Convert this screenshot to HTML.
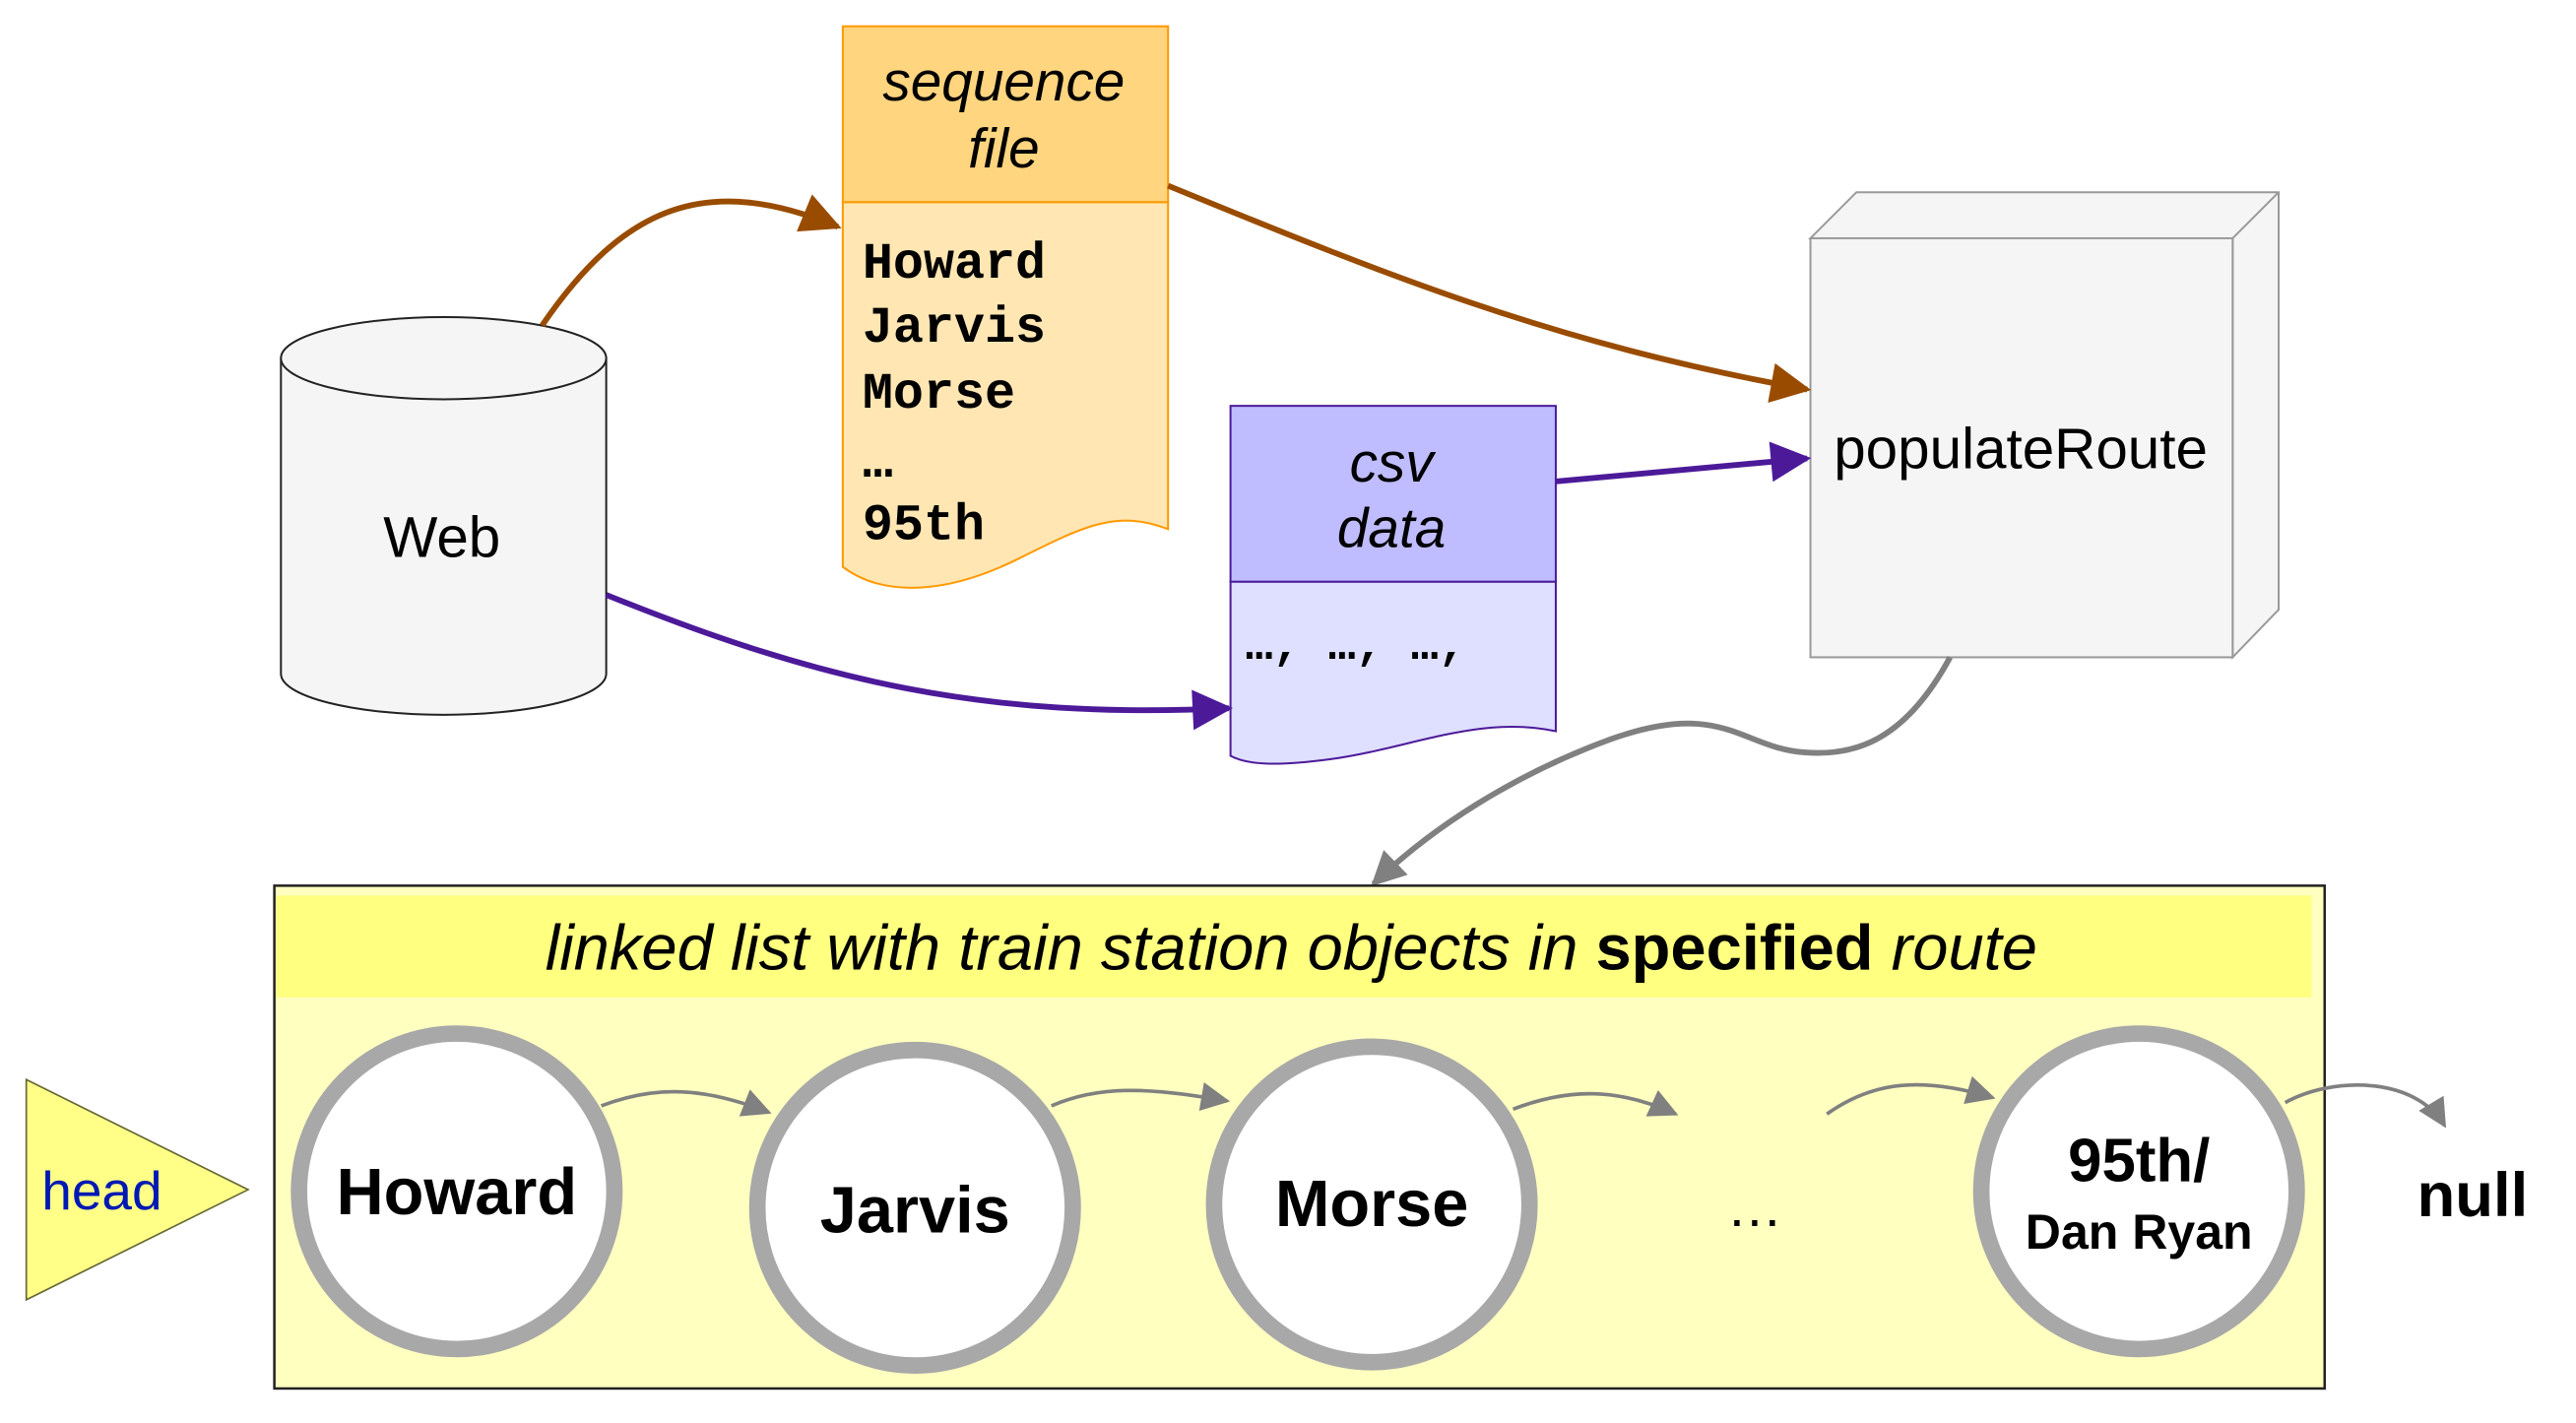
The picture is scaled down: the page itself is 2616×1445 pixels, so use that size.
<!DOCTYPE html>
<html><head><meta charset="utf-8"><style>html,body{margin:0;padding:0;background:#fff}svg{display:block}</style></head>
<body>
<svg width="2616" height="1445" viewBox="0 0 1568 866" preserveAspectRatio="none" xmlns="http://www.w3.org/2000/svg" font-family="Liberation Sans, sans-serif">
<defs>
<marker id="ab" viewBox="0 0 10 10" refX="9" refY="5" markerWidth="8" markerHeight="7" orient="auto" markerUnits="strokeWidth"><path d="M0,0L10,5L0,10z" fill="#994c00"/></marker>
<marker id="ap" viewBox="0 0 10 10" refX="9" refY="5" markerWidth="8" markerHeight="7" orient="auto" markerUnits="strokeWidth"><path d="M0,0L10,5L0,10z" fill="#4c1a99"/></marker>
<marker id="ag" viewBox="0 0 10 10" refX="9" refY="5" markerWidth="7" markerHeight="6" orient="auto" markerUnits="strokeWidth"><path d="M0,0L10,5L0,10z" fill="#808080"/></marker>
<marker id="as" viewBox="0 0 10 10" refX="9" refY="5" markerWidth="10" markerHeight="8" orient="auto" markerUnits="strokeWidth"><path d="M0,0L10,5L0,10z" fill="#808080"/></marker>
</defs>
<path d="M171,218 L171,410 A99,25 0 0 0 369,410 L369,218" fill="#f5f5f5" stroke="#222" stroke-width="1.2"/>
<ellipse cx="270" cy="218" rx="99" ry="25" fill="#f5f5f5" stroke="#222" stroke-width="1.2"/>
<text x="269" y="339" font-size="35" text-anchor="middle">Web</text>
<path d="M513,123 L711,123 L711,322 C680,310 660,320 620,340 C580,360 540,365 513,345 Z" fill="#ffe6b3" stroke="#ff9900" stroke-width="1.2"/>
<rect x="513" y="16" width="198" height="107" fill="#ffd57f" stroke="#ff9900" stroke-width="1.2"/>
<text x="611" y="61" font-size="34" font-style="italic" text-anchor="middle">sequence</text>
<text x="611" y="102" font-size="34" font-style="italic" text-anchor="middle">file</text>
<g font-family="Liberation Mono, monospace" font-size="31" font-weight="bold">
<text x="525" y="169">Howard</text><text x="525" y="208">Jarvis</text><text x="525" y="248">Morse</text><text x="525" y="290">…</text><text x="525" y="328">95th</text></g>
<path d="M749,354 L947,354 L947,445 C900,435 860,455 810,462 C780,466 760,466 749,460 Z" fill="#dfdfff" stroke="#4c1a99" stroke-width="1.2"/>
<rect x="749" y="247" width="198" height="107" fill="#bfbdff" stroke="#4c1a99" stroke-width="1.2"/>
<text x="847" y="293" font-size="34" font-style="italic" text-anchor="middle">csv</text>
<text x="847" y="333" font-size="34" font-style="italic" text-anchor="middle">data</text>
<text x="758" y="401" font-family="Liberation Mono, monospace" font-size="28" font-weight="bold">…, …, …,</text>
<path d="M1102,145 L1130,117 L1387,117 L1387,371 L1359,400 L1359,145 Z" fill="#f5f5f5" stroke="#999" stroke-width="1.2"/>
<line x1="1359" y1="145" x2="1387" y2="117" stroke="#999" stroke-width="1.2"/>
<rect x="1102" y="145" width="257" height="255" fill="#f5f5f5" stroke="#999" stroke-width="1.2"/>
<text x="1230" y="285" font-size="35" text-anchor="middle">populateRoute</text>
<path d="M330,198 C380,125 430,105 510,138" fill="none" stroke="#994c00" stroke-width="3.5" marker-end="url(#ab)"/>
<path d="M711,113 C850,170 950,210 1100,237" fill="none" stroke="#994c00" stroke-width="3.5" marker-end="url(#ab)"/>
<path d="M369,362 C500,415 600,438 748,431" fill="none" stroke="#4c1a99" stroke-width="3.5" marker-end="url(#ap)"/>
<path d="M947,293 L1100,279" fill="none" stroke="#4c1a99" stroke-width="3.5" marker-end="url(#ap)"/>
<path d="M1187,400 C1160,450 1130,460 1100,458 C1060,456 1050,425 980,450 C920,472 870,505 836,538" fill="none" stroke="#808080" stroke-width="3.5" marker-end="url(#ag)"/>
<rect x="167" y="539" width="1248" height="306" fill="#ffffc0" stroke="#222" stroke-width="1.5"/>
<rect x="168" y="545" width="1239" height="62" fill="#ffff80"/>
<text x="786" y="590" font-size="39" font-style="italic" text-anchor="middle">linked list with train station objects in <tspan font-weight="bold" font-style="normal">specified</tspan> route</text>
<path d="M16,657 L151,724 L16,791 Z" fill="#ffff88" stroke="#666633" stroke-width="1"/>
<text x="62" y="736" font-size="33" fill="#0019b3" text-anchor="middle">head</text>
<g fill="#fff" stroke="#a8a8a8" stroke-width="10">
<circle cx="278" cy="725" r="96"/><circle cx="557" cy="735" r="96"/><circle cx="835" cy="733" r="96"/><circle cx="1302" cy="725" r="96"/></g>
<g font-weight="bold" text-anchor="middle" font-size="40">
<text x="278" y="739">Howard</text><text x="557" y="750">Jarvis</text><text x="835" y="746">Morse</text>
<text x="1302" y="719" font-size="37">95th/</text><text x="1302" y="760" font-size="30">Dan Ryan</text>
<text x="1505" y="740" font-size="38">null</text></g>
<text x="1068" y="746" font-size="34" text-anchor="middle">…</text>
<g fill="none" stroke="#808080" stroke-width="2.2">
<path d="M366,673 C400,660 430,662 468,677" marker-end="url(#as)"/>
<path d="M640,673 C670,660 700,662 747,670" marker-end="url(#as)"/>
<path d="M921,675 C955,662 985,662 1020,678" marker-end="url(#as)"/>
<path d="M1112,678 C1140,658 1170,655 1213,668" marker-end="url(#as)"/>
<path d="M1391,671 C1420,655 1470,655 1488,685" marker-end="url(#as)"/>
</g>
</svg>
</body></html>
